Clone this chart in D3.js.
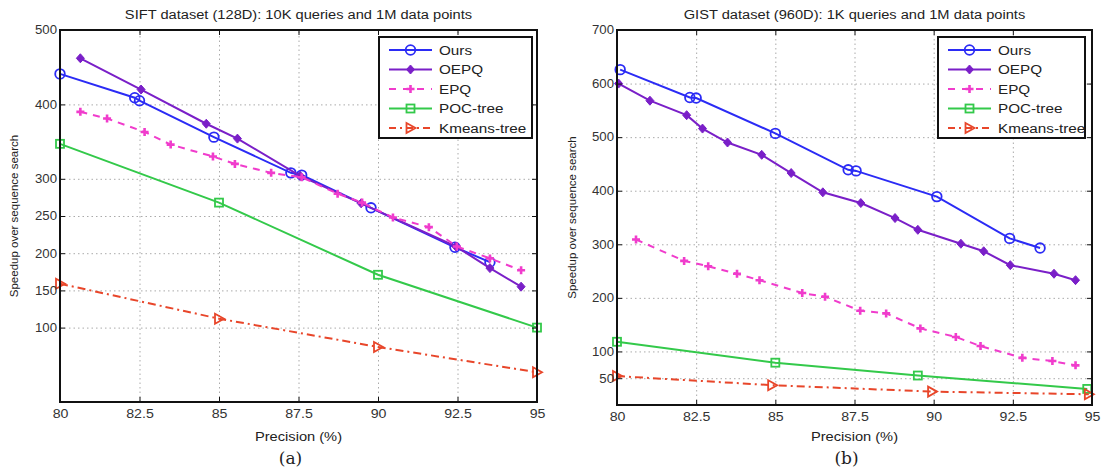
<!DOCTYPE html>
<html lang="en">
<head>
  <meta charset="UTF-8">
  <title>Speedup vs Precision</title>
  <script src="https://d3js.org/d3.v7.min.js"></script>
  <style>
    body { margin: 0; background: #fff; font-family: "Liberation Sans", Arial, sans-serif; }
    .axis text { font-size: 12px; fill: #333; }
    .axis path, .axis line { stroke: #111; }
    .grid line { stroke: #aaa; stroke-dasharray: 1.5,3; }
    .grid path { display: none; }
  </style>
</head>
<body>
  <svg width="1104" height="476"></svg>

  <script>
    // shared x ticks
    const xTicks = [80, 82.5, 85, 87.5, 90, 92.5, 95];

    // SIFT (128D) series: [precision, speedup]
    const siftOurs = [[80, 441], [82.35, 409], [82.5, 405], [84.84, 356], [87.26, 308], [87.6, 305], [89.78, 261], [92.42, 208], [93.52, 188]];
    const siftOepq = [[80.64, 462], [82.55, 420], [84.6, 374], [85.58, 354], [87.55, 304], [89.47, 267], [92.45, 209], [93.52, 180], [94.5, 155]];
    const siftEpq = [[80.64, 390], [81.48, 381], [82.66, 363], [83.48, 346], [84.81, 330], [85.5, 320], [86.64, 308], [87.6, 302], [88.73, 280], [89.5, 268], [90.47, 248], [91.6, 235], [92.48, 209], [93.52, 193], [94.5, 177]];
    const siftPoc = [[80, 347], [85, 268], [90, 171], [95, 100]];
    const siftKmeans = [[80, 159], [85, 112], [90, 74], [95, 40]];
    const siftYTicks = [100, 150, 200, 250, 300, 400, 500];

    // GIST (960D) series
    const gistOurs = [[80.1, 626], [82.3, 574], [82.5, 573], [85.0, 507], [87.3, 439], [87.55, 437], [90.1, 389], [92.4, 311], [93.36, 293]];
    const gistOepq = [[80.05, 600], [81.04, 568], [82.2, 541], [82.7, 516], [83.49, 490], [84.57, 467], [85.5, 433], [86.5, 397], [87.7, 377], [88.78, 349], [89.5, 327], [90.86, 301], [91.58, 287], [92.42, 261], [93.8, 245], [94.48, 233]];
    const gistEpq = [[80.6, 309], [82.12, 269], [82.88, 259], [83.79, 245], [84.5, 233], [85.85, 209], [86.57, 202], [87.68, 176], [88.5, 171], [89.58, 143], [90.7, 127], [91.48, 110], [92.8, 88], [93.75, 82], [94.48, 74]];
    const gistPoc = [[80, 118], [85, 79], [89.5, 55], [94.85, 30]];
    const gistKmeans = [[80, 54], [84.9, 37], [89.95, 25], [94.9, 20]];
    const gistYTicks = [50, 100, 200, 300, 400, 500, 600, 700];

    const seriesNames = ["Ours", "OEPQ", "EPQ", "POC-tree", "Kmeans-tree"];

    const styles = {
      "Ours":        { color: "#2b2bf5", dash: null,      marker: "circle" },
      "OEPQ":        { color: "#7a1fc8", dash: null,      marker: "diamond" },
      "EPQ":         { color: "#f03ccc", dash: "7,6",     marker: "plus" },
      "POC-tree":    { color: "#33c94a", dash: null,      marker: "square" },
      "Kmeans-tree": { color: "#e8462a", dash: "8,4,2,4", marker: "triangle" }
    };

    const svg = d3.select("svg");

    // the source figure is a bit wider than tall, so text is stretched sideways
    function stretch(sel, k) {
      sel.each(function() {
        const len = this.getComputedTextLength();
        d3.select(this).attr("textLength", len * k).attr("lengthAdjust", "spacingAndGlyphs");
      });
    }

    function drawMarker(g, type, color, x, y) {
      if (type === "circle") {
        g.append("circle").attr("cx", x).attr("cy", y).attr("r", 4.8)
          .attr("fill", "none").attr("stroke", color).attr("stroke-width", 1.8);
      } else if (type === "diamond") {
        g.append("path").attr("d", `M${x},${y - 4.5}L${x + 4},${y}L${x},${y + 4.5}L${x - 4},${y}Z`)
          .attr("fill", color).attr("stroke", color).attr("stroke-width", 1);
      } else if (type === "plus") {
        g.append("path").attr("d", `M${x - 4},${y}H${x + 4}M${x},${y - 4}V${y + 4}`)
          .attr("stroke", color).attr("stroke-width", 2.6);
      } else if (type === "square") {
        g.append("rect").attr("x", x - 4).attr("y", y - 4).attr("width", 8).attr("height", 8)
          .attr("fill", "none").attr("stroke", color).attr("stroke-width", 1.8);
      } else if (type === "triangle") {
        g.append("path").attr("d", `M${x - 4},${y - 5}L${x + 5},${y}L${x - 4},${y + 5}Z`)
          .attr("fill", "none").attr("stroke", color).attr("stroke-width", 1.8);
      }
    }

    function drawPanel(cfg) {
      const { left, top, right, bottom } = cfg.box;
      const x = d3.scaleLinear().domain([80, 95]).range([left, right]);
      const y = d3.scaleLinear().domain([0, cfg.yMax]).range([bottom, top]);
      const g = svg.append("g");

      // grid
      g.append("g").attr("class", "grid").attr("transform", `translate(0,${bottom})`)
        .call(d3.axisBottom(x).tickValues(xTicks).tickSize(-(bottom - top)).tickFormat(""));
      g.append("g").attr("class", "grid").attr("transform", `translate(${left},0)`)
        .call(d3.axisLeft(y).tickValues(cfg.yTicks).tickSize(-(right - left)).tickFormat(""));

      // series
      const line = d3.line().x(d => x(d[0])).y(d => y(d[1]));
      cfg.series.forEach((data, i) => {
        const st = styles[seriesNames[i]];
        g.append("path").attr("d", line(data)).attr("fill", "none")
          .attr("stroke", st.color).attr("stroke-width", 2)
          .attr("stroke-dasharray", st.dash);
        const mg = g.append("g");
        data.forEach(d => drawMarker(mg, st.marker, st.color, x(d[0]), y(d[1])));
      });

      // axes (MATLAB style ticks inside)
      const xa = g.append("g").attr("class", "axis").attr("transform", `translate(0,${bottom})`)
        .call(d3.axisBottom(x).tickValues(xTicks).tickSize(-5).tickPadding(7).tickFormat(d3.format("")));
      g.append("g").attr("class", "axis").attr("transform", `translate(0,${top})`)
        .call(d3.axisTop(x).tickValues(xTicks).tickSize(-5).tickFormat(""));
      const ya = g.append("g").attr("class", "axis").attr("transform", `translate(${left},0)`)
        .call(d3.axisLeft(y).tickValues(cfg.yTicks).tickSize(-5).tickPadding(3));
      g.append("g").attr("class", "axis").attr("transform", `translate(${right},0)`)
        .call(d3.axisRight(y).tickValues(cfg.yTicks).tickSize(-5).tickFormat(""));
      stretch(xa.selectAll("text"), 1.18);
      stretch(ya.selectAll("text"), 1.1);

      g.append("rect").attr("x", left).attr("y", top).attr("width", right - left).attr("height", bottom - top)
        .attr("fill", "none").attr("stroke", "#111").attr("stroke-width", 2);

      // legend
      const lg = g.append("g");
      const L = cfg.legend;
      lg.append("rect").attr("x", L.x).attr("y", L.y).attr("width", L.w).attr("height", 101)
        .attr("fill", "#fff").attr("stroke", "#111").attr("stroke-width", 2);
      seriesNames.forEach((name, i) => {
        const st = styles[name];
        const ly = L.y + 13 + i * 19.5;
        lg.append("line").attr("x1", L.x + 10).attr("x2", L.x + 53).attr("y1", ly).attr("y2", ly)
          .attr("stroke", st.color).attr("stroke-width", 2)
          .attr("stroke-dasharray", name === "EPQ" ? "7,7" : name === "Kmeans-tree" ? "7,4,2,4" : null);
        drawMarker(lg, st.marker, st.color, L.x + 31.5, ly);
        lg.append("text").attr("x", L.x + 60).attr("y", ly).attr("dy", "0.36em")
          .attr("font-size", 12.5).attr("fill", "#222").text(name);
      });
      stretch(lg.selectAll("text"), 1.22);

      // titles
      const t1 = g.append("text").attr("x", (left + right) / 2).attr("y", 19).attr("text-anchor", "middle")
        .attr("font-size", 12).attr("fill", "#222").text(cfg.title);
      const t2 = g.append("text").attr("x", (left + right) / 2).attr("y", 441).attr("text-anchor", "middle")
        .attr("font-size", 12).attr("fill", "#222").text("Precision (%)");
      stretch(t1, 1.22);
      stretch(t2, 1.22);
      g.append("text").attr("transform", `translate(${cfg.ylabelX},${(top + bottom) / 2}) rotate(-90)`)
        .attr("text-anchor", "middle").attr("font-size", 11.5).attr("fill", "#222")
        .text("Speedup over sequence search");
      g.append("text").attr("x", (left + right) / 2 - 8).attr("y", 464).attr("text-anchor", "middle")
        .attr("font-family", "'DejaVu Serif', 'Liberation Serif', serif").attr("font-size", 17)
        .attr("fill", "#222").text(cfg.tag);
    }

    drawPanel({
      box: { left: 60, top: 30, right: 537, bottom: 402 },
      yMax: 500, yTicks: siftYTicks,
      series: [siftOurs, siftOepq, siftEpq, siftPoc, siftKmeans],
      legend: { x: 379, y: 37, w: 153 },
      title: "SIFT dataset (128D): 10K queries and 1M data points",
      ylabelX: 18, tag: "(a)"
    });

    drawPanel({
      box: { left: 617, top: 30, right: 1092, bottom: 405 },
      yMax: 700, yTicks: gistYTicks,
      series: [gistOurs, gistOepq, gistEpq, gistPoc, gistKmeans],
      legend: { x: 938, y: 37, w: 147 },
      title: "GIST dataset (960D): 1K queries and 1M data points",
      ylabelX: 576, tag: "(b)"
    });
  </script>
</body>
</html>
